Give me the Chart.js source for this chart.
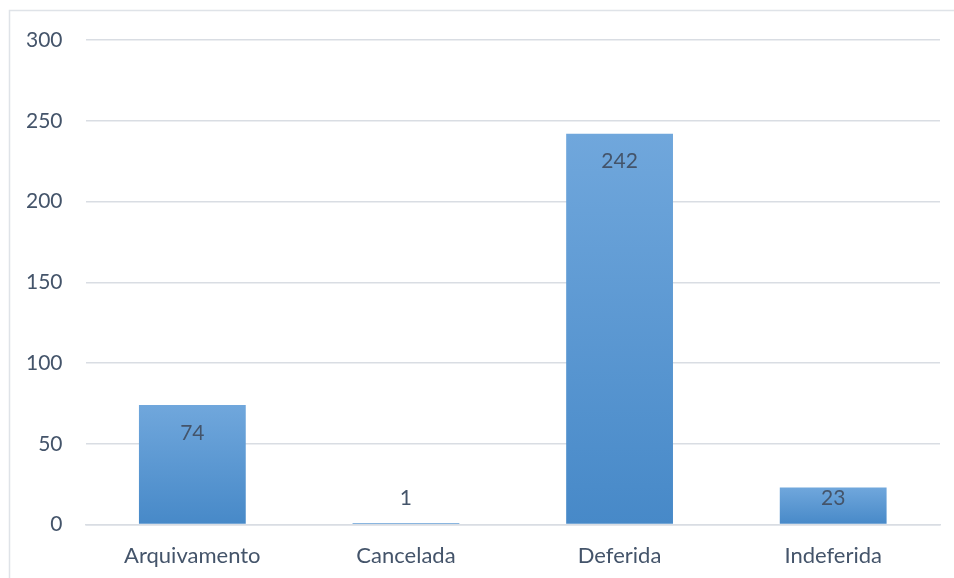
<!DOCTYPE html>
<html>
<head>
<meta charset="utf-8">
<script src="https://cdn.jsdelivr.net/npm/chart.js@4"></script>
<style>
  html, body { margin: 0; padding: 0; background: #fff; }
  #wrap { width: 954px; height: 578px; position: relative; }
</style>
</head>
<body>
<div id="wrap"><canvas id="myChart" width="954" height="578"></canvas></div>
<script>
// chart data
const categories = ["Arquivamento", "Cancelada", "Deferida", "Indeferida"];
const values = [74, 1, 242, 23];
const yTicks = [0, 50, 100, 150, 200, 250, 300];

const textColor = "#44546a";
const fontFamily = "Lato, 'Open Sans', sans-serif";

// outer frame like the office chart area border
const framePlugin = {
    id: "frame",
    beforeDraw(chart) {
        const ctx = chart.ctx;
        ctx.save();
        ctx.strokeStyle = "#dfe3e8";
        ctx.lineWidth = 1.5;
        ctx.strokeRect(9.5, 10.5, 1200, 1200);
        ctx.restore();
    }
};

// value labels inside the bar end, clamped near the base for short bars
const labelPlugin = {
    id: "valueLabels",
    afterDatasetsDraw(chart) {
        const ctx = chart.ctx;
        const meta = chart.getDatasetMeta(0);
        ctx.save();
        ctx.font = "21px " + fontFamily;
        ctx.fillStyle = textColor;
        ctx.textAlign = "center";
        ctx.textBaseline = "middle";
        meta.data.forEach((bar, i) => {
            const y = Math.min(bar.y + 28, bar.base - 26);
            ctx.fillText(String(values[i]), bar.x, y);
        });
        ctx.restore();
    }
};

function barGradient(context) {
    const chart = context.chart;
    const y = chart.scales.y;
    if (!y || context.dataIndex === undefined) return "#5b9bd5";
    const top = y.getPixelForValue(values[context.dataIndex]);
    const base = y.getPixelForValue(0);
    if (!isFinite(top) || !isFinite(base) || base - top < 1) return "#4f8fcd";
    const g = chart.ctx.createLinearGradient(0, top, 0, base);
    g.addColorStop(0, "#70a7dc");
    g.addColorStop(1, "#4789c8");
    return g;
}

new Chart(document.getElementById("myChart"), {
    type: "bar",
    data: {
        labels: categories,
        datasets: [{
            data: values,
            backgroundColor: barGradient,
            borderWidth: 0,
            categoryPercentage: 1,
            barPercentage: 0.5
        }]
    },
    options: {
        responsive: false,
        animation: false,
        layout: { padding: { left: 3, right: 14, top: 40, bottom: -9 } },
        plugins: {
            legend: { display: false },
            tooltip: { enabled: false }
        },
        scales: {
            x: {
                grid: { display: false, drawTicks: false },
                border: { display: true, color: "#d9dde3", width: 1.5 },
                ticks: {
                    color: textColor,
                    font: { family: fontFamily, size: 22 },
                    padding: 18
                }
            },
            y: {
                min: 0,
                max: 300,
                afterBuildTicks(axis) {
                    axis.ticks = yTicks.map(v => ({ value: v }));
                },
                grid: { color: "#d9dde3", lineWidth: 1.5, drawTicks: false },
                border: { display: false },
                ticks: {
                    color: textColor,
                    font: { family: fontFamily, size: 21 },
                    padding: 23
                }
            }
        }
    },
    plugins: [framePlugin, labelPlugin]
});
</script>
</body>
</html>
